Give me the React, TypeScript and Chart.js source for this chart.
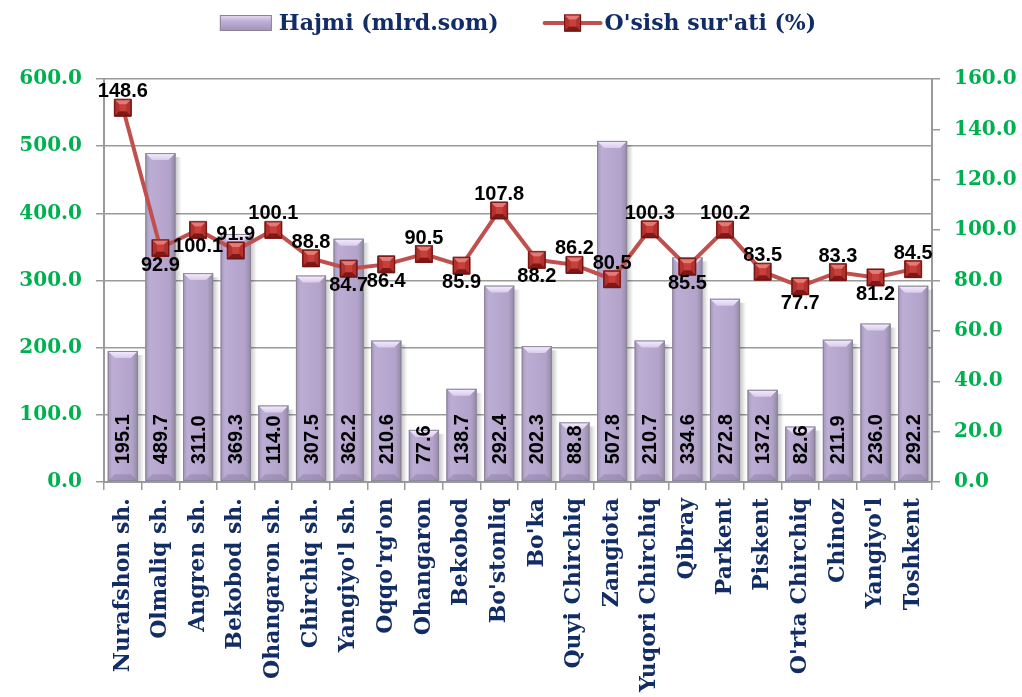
import React, { useEffect, useRef } from 'react';
import { Chart, registerables } from 'chart.js';

Chart.register(...registerables);

const categories = [
  'Nurafshon sh.', 'Olmaliq sh.', 'Angren sh.', 'Bekobod sh.', 'Ohangaron sh.', 'Chirchiq sh.',
  "Yangiyo'l sh.", "Oqqo'rg'on", 'Ohangaron', 'Bekobod', "Bo'stonliq", "Bo'ka", 'Quyi Chirchiq',
  'Zangiota', 'Yuqori Chirchiq', 'Qibray', 'Parkent', 'Piskent', "O'rta Chirchiq", 'Chinoz',
  "Yangiyo'l", 'Toshkent',
];
const volumes = [
  195.1, 489.7, 311.0, 369.3, 114.0, 307.5, 362.2, 210.6, 77.6, 138.7, 292.4, 202.3, 88.8,
  507.8, 210.7, 334.6, 272.8, 137.2, 82.6, 211.9, 236.0, 292.2,
];
const growth = [
  148.6, 92.9, 100.1, 91.9, 100.1, 88.8, 84.7, 86.4, 90.5, 85.9, 107.8, 88.2, 86.2,
  80.5, 100.3, 85.5, 100.2, 83.5, 77.7, 83.3, 81.2, 84.5,
];
const growthLabelPlacement = [
  'above', 'below', 'below', 'above', 'above', 'above', 'below', 'below', 'above', 'below', 'above',
  'below', 'above', 'above', 'above', 'below', 'above', 'above', 'below', 'above', 'below', 'above',
];
const seriesNames = ['Hajmi (mlrd.som)', "O'sish sur'ati (%)"];

const NAVY = '#122C66';
const GREEN = '#00B050';
const GRID = '#9A9A9A';
const LINE_RED = '#C0504D';

const decor = {
  id: 'decor',
  beforeDatasetDraw(chart: any, args: any) {
    if (args.index !== 0) return;
    const ctx = chart.ctx;
    const meta = chart.getDatasetMeta(0);
    ctx.save();
    meta.data.forEach((el: any) => {
      const { x, y, base, width } = el.getProps(['x', 'y', 'base', 'width'], true);
      const r = x + width / 2;
      const g = ctx.createLinearGradient(r, 0, r + 6, 0);
      g.addColorStop(0, 'rgba(0,0,0,0.22)');
      g.addColorStop(1, 'rgba(0,0,0,0)');
      ctx.fillStyle = g;
      ctx.fillRect(r, y + 4, 6, base - y - 4);
    });
    ctx.restore();
  },
  afterDatasetDraw(chart: any, args: any) {
    const ctx = chart.ctx;
    if (args.index === 0) {
      const meta = chart.getDatasetMeta(0);
      ctx.save();
      meta.data.forEach((el: any, i: number) => {
        const { x, y, base, width } = el.getProps(['x', 'y', 'base', 'width'], true);
        const L = x - width / 2;
        const R = x + width / 2;
        const T = y;
        const B = base;
        const g = ctx.createLinearGradient(L, 0, R, 0);
        g.addColorStop(0, '#A495B8');
        g.addColorStop(0.15, '#BCADD4');
        g.addColorStop(0.8, '#B3A3CB');
        g.addColorStop(1, '#928AA0');
        ctx.fillStyle = g;
        ctx.fillRect(L, T, width, B - T);
        const d = 7;
        const tg = ctx.createLinearGradient(0, T, 0, T + d);
        tg.addColorStop(0, '#F6EEFF');
        tg.addColorStop(1, '#D9CBEB');
        ctx.fillStyle = tg;
        ctx.beginPath();
        ctx.moveTo(L, T);
        ctx.lineTo(R, T);
        ctx.lineTo(R - d, T + d);
        ctx.lineTo(L + d, T + d);
        ctx.closePath();
        ctx.fill();
        ctx.fillStyle = 'rgba(120,105,145,0.35)';
        ctx.beginPath();
        ctx.moveTo(L, B);
        ctx.lineTo(R, B);
        ctx.lineTo(R - d, B - d);
        ctx.lineTo(L + d, B - d);
        ctx.closePath();
        ctx.fill();
        ctx.strokeStyle = '#8C8398';
        ctx.lineWidth = 1;
        ctx.strokeRect(L + 0.5, T + 0.5, width - 1, B - T - 1);
        ctx.save();
        ctx.translate(x, B - 17);
        ctx.rotate(-Math.PI / 2);
        ctx.font = 'bold 20px "Liberation Sans", Arial, sans-serif';
        ctx.fillStyle = '#000';
        ctx.textAlign = 'left';
        ctx.textBaseline = 'middle';
        ctx.fillText(volumes[i].toFixed(1), 0, 1);
        ctx.restore();
      });
      ctx.restore();
    }
    if (args.index === 1) {
      const meta = chart.getDatasetMeta(1);
      ctx.save();
      meta.data.forEach((el: any) => {
        const { x, y } = el.getProps(['x', 'y'], true);
        drawMarker(ctx, x, y, 8.5);
      });
      ctx.restore();
    }
  },
  afterDatasetsDraw(chart: any) {
    const ctx = chart.ctx;
    const meta = chart.getDatasetMeta(1);
    ctx.save();
    ctx.font = 'bold 20px "Liberation Sans", Arial, sans-serif';
    ctx.fillStyle = '#000';
    ctx.textAlign = 'center';
    ctx.textBaseline = 'middle';
    meta.data.forEach((el: any, i: number) => {
      const { x, y } = el.getProps(['x', 'y'], true);
      const p = growthLabelPlacement[i];
      const ty = p === 'above' ? y - 17 : y + 16;
      ctx.fillText(growth[i].toFixed(1), x, ty + 1);
    });
    ctx.restore();

    const area = chart.chartArea;
    ctx.save();
    ctx.font = 'bold 22px "DejaVu Serif", serif';
    const w1 = ctx.measureText(seriesNames[0]).width;
    const w2 = ctx.measureText(seriesNames[1]).width;
    const sw = 52, g1 = 7, gap = 46, lw = 56, g2 = 4;
    const total = sw + g1 + w1 + gap + lw + g2 + w2;
    let lx = (area.left + area.right) / 2 - total / 2;
    const cy = 23;
    const sg = ctx.createLinearGradient(0, cy - 8, 0, cy + 8);
    sg.addColorStop(0, '#E8DEF6');
    sg.addColorStop(0.35, '#C3B3DB');
    sg.addColorStop(1, '#A090B8');
    ctx.fillStyle = sg;
    ctx.fillRect(lx, cy - 8, sw, 16);
    ctx.strokeStyle = '#8C8398';
    ctx.lineWidth = 1;
    ctx.strokeRect(lx + 0.5, cy - 7.5, sw - 1, 15);
    lx += sw + g1;
    ctx.fillStyle = NAVY;
    ctx.textAlign = 'left';
    ctx.textBaseline = 'middle';
    ctx.fillText(seriesNames[0], lx, cy + 1);
    lx += w1 + gap;
    ctx.strokeStyle = LINE_RED;
    ctx.lineWidth = 4;
    ctx.lineCap = 'round';
    ctx.beginPath();
    ctx.moveTo(lx, cy);
    ctx.lineTo(lx + lw, cy);
    ctx.stroke();
    drawMarker(ctx, lx + lw / 2, cy, 8.5);
    lx += lw + g2;
    ctx.fillStyle = NAVY;
    ctx.fillText(seriesNames[1], lx, cy + 1);
    ctx.restore();
  },
};

function drawMarker(ctx: CanvasRenderingContext2D, x: number, y: number, h: number) {
  const L = x - h, R = x + h, T = y - h, B = y + h;
  ctx.fillStyle = '#B3322E';
  ctx.fillRect(L, T, 2 * h, 2 * h);
  const d = 5;
  ctx.fillStyle = '#E47A76';
  ctx.beginPath();
  ctx.moveTo(L, T); ctx.lineTo(R, T); ctx.lineTo(x, y); ctx.closePath();
  ctx.fill();
  ctx.fillStyle = '#7E1917';
  ctx.beginPath();
  ctx.moveTo(L, B); ctx.lineTo(R, B); ctx.lineTo(R - d, B - d); ctx.lineTo(L + d, B - d); ctx.closePath();
  ctx.fill();
  ctx.fillStyle = '#C8403B';
  ctx.fillRect(L + d, T + d, 2 * h - 2 * d, 2 * h - 2 * d);
  ctx.strokeStyle = '#6E1513';
  ctx.lineWidth = 1;
  ctx.strokeRect(L + 0.5, T + 0.5, 2 * h - 1, 2 * h - 1);
}

export default function App() {
  const ref = useRef<HTMLCanvasElement | null>(null);
  useEffect(() => {
    document.body.style.margin = '0';
    const canvas = ref.current;
    if (!canvas) return;
    const serifFont = (size: number) => ({ family: '"DejaVu Serif", serif', size, weight: 'bold' as const });
    const chart = new Chart(canvas, {
      type: 'bar',
      data: {
        labels: categories,
        datasets: [
          {
            type: 'bar',
            label: seriesNames[0],
            data: volumes,
            yAxisID: 'y',
            backgroundColor: '#B4A4CC',
            borderWidth: 0,
            barPercentage: 0.8,
            categoryPercentage: 1,
            order: 2,
          },
          {
            type: 'line',
            label: seriesNames[1],
            data: growth,
            yAxisID: 'y1',
            borderColor: LINE_RED,
            borderWidth: 4,
            pointStyle: 'rect',
            pointRadius: 12,
            pointBackgroundColor: '#B3322E',
            pointBorderColor: '#6E1513',
            pointBorderWidth: 1,
            tension: 0,
            order: 1,
          } as any,
        ],
      },
      options: {
        responsive: false,
        animation: false,
        layout: { padding: { top: 79, left: 0, right: 0, bottom: 0 } },
        plugins: {
          legend: { display: false },
          tooltip: { enabled: false },
        },
        scales: {
          x: {
            offset: true,
            grid: { offset: true, drawOnChartArea: false, drawTicks: true, tickLength: 8, color: GRID, lineWidth: 1.5 },
            border: { color: GRID, width: 2 },
            ticks: {
              autoSkip: false,
              maxRotation: 90,
              minRotation: 90,
              color: NAVY,
              font: serifFont(22),
              padding: 8,
            },
            afterFit: (s: any) => { s.height = 215; },
          },
          y: {
            position: 'left',
            min: 0,
            max: 600,
            ticks: {
              stepSize: 100,
              color: GREEN,
              font: serifFont(20),
              padding: 14,
              callback: (v: any) => Number(v).toFixed(1),
            },
            grid: { color: GRID, lineWidth: 1.5, tickLength: 8 },
            border: { color: GRID, width: 2 },
            afterFit: (s: any) => { s.width = 104; },
          },
          y1: {
            position: 'right',
            min: 0,
            max: 160,
            ticks: {
              stepSize: 20,
              color: GREEN,
              font: serifFont(20),
              padding: 14,
              callback: (v: any) => Number(v).toFixed(1),
            },
            grid: { drawOnChartArea: false, color: GRID, lineWidth: 1.5, tickLength: 8 },
            border: { color: GRID, width: 2 },
            afterFit: (s: any) => { s.width = 90; },
          },
        },
      },
      plugins: [decor],
    } as any);
    return () => chart.destroy();
  }, []);
  return (
    <div style={{ width: 1022, height: 697, background: '#fff' }}>
      <canvas ref={ref} width={1022} height={697} />
    </div>
  );
}
